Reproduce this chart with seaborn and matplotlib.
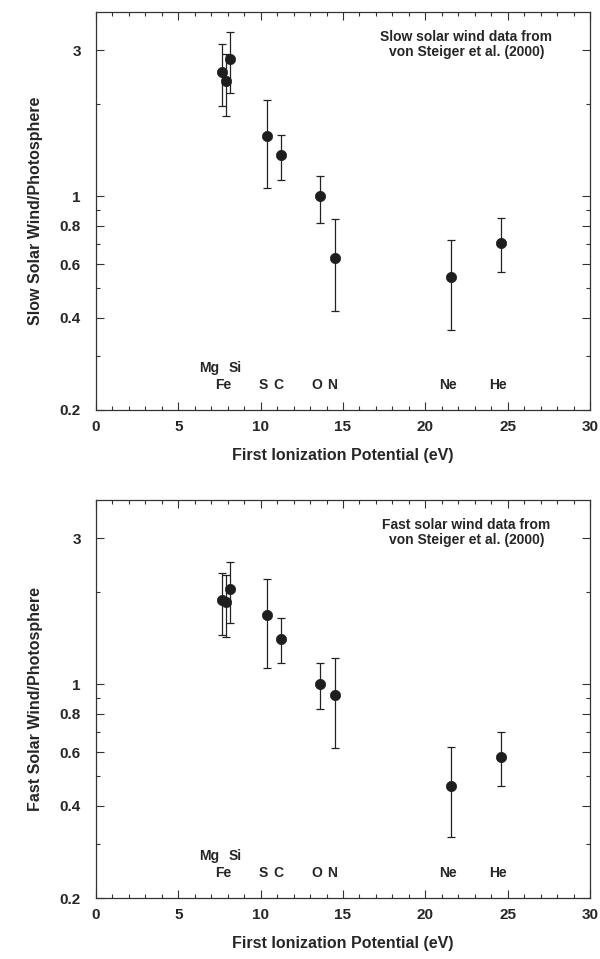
import matplotlib
matplotlib.use("Agg")
import matplotlib.pyplot as plt
import matplotlib.ticker as mticker
import seaborn as sns
import pandas as pd

# Element data (FIP in eV), abundance ratios
elements = ["Mg", "Fe", "Si", "S", "C", "O", "N", "Ne", "He"]
fip = [7.65, 7.90, 8.15, 10.36, 11.26, 13.62, 14.53, 21.56, 24.59]

slow = [2.55, 2.38, 2.81, 1.57, 1.36, 1.00, 0.63, 0.544, 0.705]
slow_lo = [1.97, 1.83, 2.17, 1.06, 1.13, 0.82, 0.42, 0.364, 0.567]
slow_hi = [3.14, 2.92, 3.45, 2.07, 1.58, 1.16, 0.84, 0.72, 0.85]

fast = [1.88, 1.85, 2.04, 1.68, 1.41, 1.00, 0.92, 0.466, 0.578]
fast_lo = [1.45, 1.43, 1.58, 1.13, 1.17, 0.83, 0.62, 0.316, 0.466]
fast_hi = [2.31, 2.27, 2.50, 2.21, 1.64, 1.17, 1.22, 0.621, 0.697]

y_major = [0.2, 0.4, 0.6, 0.8, 1, 3]
y_major_labels = ["0.2", "0.4", "0.6", "0.8", "1", "3"]
y_minor = [0.3, 0.5, 0.7, 0.9, 2]

# element label rows and small horizontal nudges for the crowded ones
upper_row = ["Mg", "Si"]
label_nudge = {"Mg": -0.75, "Si": 0.3}

df = pd.DataFrame({"element": elements, "fip": fip,
                   "slow": slow, "slow_lo": slow_lo, "slow_hi": slow_hi,
                   "fast": fast, "fast_lo": fast_lo, "fast_hi": fast_hi})

sns.set_style("ticks")
plt.rcParams["font.family"] = ["Liberation Sans", "DejaVu Sans"]
plt.rcParams["font.weight"] = "bold"

fig = plt.figure(figsize=(6, 9.59), dpi=100)
ax1 = fig.add_axes([0.16, 0.5725, 0.8233, 0.415])
ax2 = fig.add_axes([0.16, 0.0636, 0.8233, 0.415])

panels = [
    (ax1, "slow", "Slow Solar Wind/Photosphere", "Slow solar wind data from\nvon Steiger et al. (2000)"),
    (ax2, "fast", "Fast Solar Wind/Photosphere", "Fast solar wind data from\nvon Steiger et al. (2000)"),
]

for ax, col, ylab, note in panels:
    lo = df[col] - df[col + "_lo"]
    hi = df[col + "_hi"] - df[col]
    ax.errorbar(df["fip"], df[col], yerr=[lo, hi], fmt="none",
                ecolor="#222222", elinewidth=0.9, capsize=3, capthick=0.9)
    sns.scatterplot(data=df, x="fip", y=col, ax=ax, marker="o", s=55,
                    color="#1e1e1e", edgecolor="#1e1e1e", linewidth=0.5, zorder=3)

    ax.set_yscale("log")
    ax.set_xlim(0, 30)
    ax.set_ylim(0.2, 4)
    ax.yaxis.set_major_locator(mticker.FixedLocator(y_major))
    ax.yaxis.set_major_formatter(mticker.FixedFormatter(y_major_labels))
    ax.yaxis.set_minor_locator(mticker.FixedLocator(y_minor))
    ax.yaxis.set_minor_formatter(mticker.NullFormatter())
    ax.xaxis.set_major_locator(mticker.MultipleLocator(5))
    ax.xaxis.set_minor_locator(mticker.MultipleLocator(1))

    ax.tick_params(which="both", direction="in", top=True, right=True,
                   labelsize=11, width=0.8, color="#333333")
    ax.tick_params(which="major", length=6, pad=7)
    ax.tick_params(axis="y", which="major", pad=11)
    ax.tick_params(which="minor", length=3)
    for lbl in ax.get_xticklabels() + ax.get_yticklabels():
        lbl.set_fontweight("bold")
    for sp in ax.spines.values():
        sp.set_linewidth(0.9)
        sp.set_color("#333333")

    ax.set_xlabel("First Ionization Potential (eV)", fontsize=11.5,
                  fontweight="bold", labelpad=10)
    ax.set_ylabel(ylab, fontsize=11.5, fontweight="bold", labelpad=12)

    for el, x in zip(elements, fip):
        yv = 0.274 if el in upper_row else 0.242
        ax.text(x + label_nudge.get(el, -0.2), yv, el, ha="center", va="center",
                fontsize=10, fontweight="bold")

    ax.text(0.75, 0.918, note, transform=ax.transAxes, ha="center", va="center",
            fontsize=10, fontweight="bold", linespacing=1.05)

fig.savefig("out.png", dpi=100)
